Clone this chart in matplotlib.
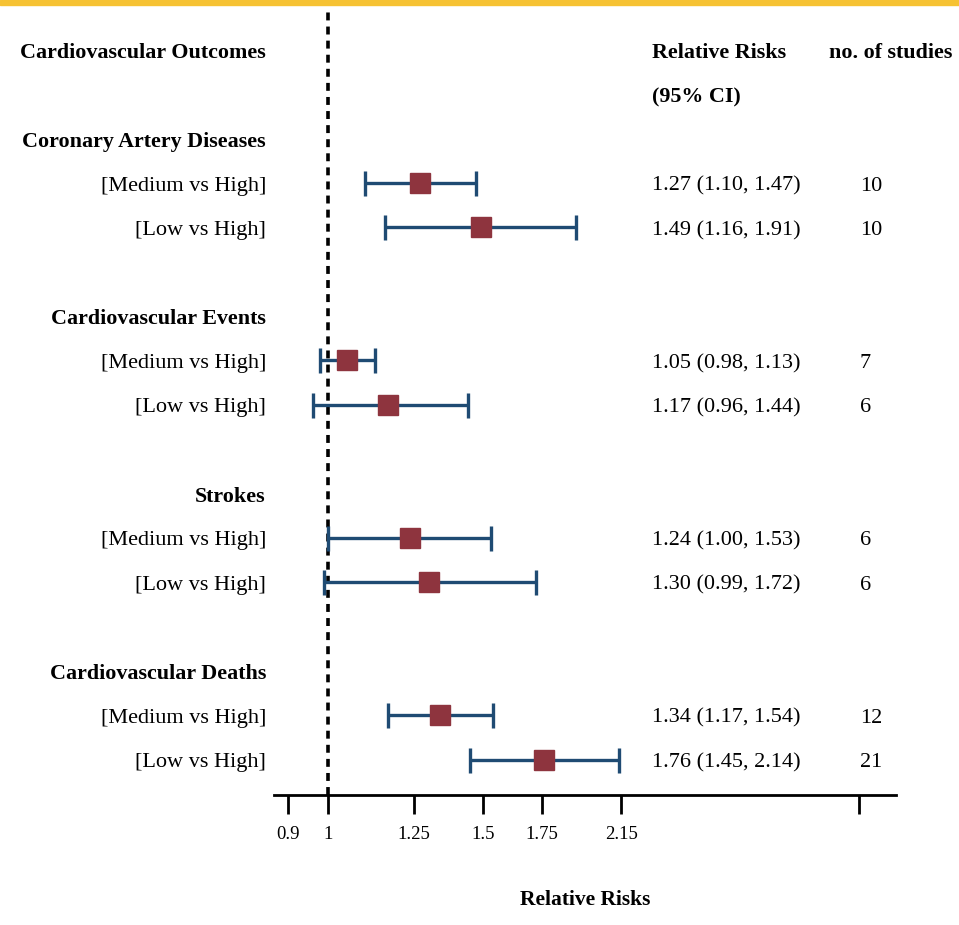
import numpy as np
import matplotlib.pyplot as plt
from matplotlib.patches import Rectangle

plt.rcParams['font.family'] = ['Liberation Serif', 'DejaVu Serif']

# data
groups = ['Coronary Artery Diseases', 'Cardiovascular Events', 'Strokes', 'Cardiovascular Deaths']
comparisons = ['[Medium vs High]', '[Low vs High]']
rr = [1.27, 1.49, 1.05, 1.17, 1.24, 1.30, 1.34, 1.76]
ci_low = [1.10, 1.16, 0.98, 0.96, 1.00, 0.99, 1.17, 1.45]
ci_high = [1.47, 1.91, 1.13, 1.44, 1.53, 1.72, 1.54, 2.14]
n_studies = [10, 10, 7, 6, 6, 6, 12, 21]
tick_vals = [0.9, 1, 1.25, 1.5, 1.75, 2.15, 4]
tick_labels = ['0.9', '1', '1.25', '1.5', '1.75', '2.15', '']

rr = np.array(rr)
ci_low = np.array(ci_low)
ci_high = np.array(ci_high)

# row positions: header rows 0,1 then 4 rows per group
group_rows = [2 + 4 * g for g in range(len(groups))]
item_rows = []
for g in group_rows:
    item_rows += [g + 1, g + 2]
item_rows = np.array(item_rows)

fig = plt.figure(figsize=(9.59, 9.25), dpi=100)
fig.patches.append(Rectangle((0, 0.9945), 1, 0.0055, transform=fig.transFigure,
                             color='#F6C233', zorder=0))

ax = fig.add_axes([274 / 959, 130 / 925, 622 / 959, 785 / 925])
ax.set_xscale('log')
ax.set_xlim(0.868, 4.41)
ax.set_ylim(16.8, -0.9)

ax.axvline(1, color='black', lw=2.6, linestyle=(0, (2.2, 1.7)), zorder=1)

ax.errorbar(rr, item_rows, xerr=[rr - ci_low, ci_high - rr], fmt='none',
            ecolor='#1F4B73', elinewidth=2.4, capsize=9, capthick=2.4, zorder=2)
ax.plot(rr, item_rows, 's', color='#8E343E', markersize=14, zorder=3)

for s in ['top', 'right', 'left']:
    ax.spines[s].set_visible(False)
ax.spines['bottom'].set_linewidth(2)
ax.set_yticks([])
ax.set_xticks(tick_vals)
ax.set_xticklabels(tick_labels)
ax.minorticks_off()
ax.tick_params(axis='x', length=14, width=2, pad=8, labelsize=13.5)

ax.set_xlabel('Relative Risks', fontsize=15.5, fontweight='bold')
ax.xaxis.set_label_coords(0.5, -0.121)

tr = ax.get_yaxis_transform()
fs = 16
fs_b = 15.8
xl = -0.013
x_rr = 0.608
x_n = 0.942
dy = 0.07  # small downward nudge so text sits level with the marks

ax.text(xl, dy, 'Cardiovascular Outcomes', transform=tr, ha='right', va='center',
        fontsize=fs_b, fontweight='bold')
ax.text(x_rr, dy, 'Relative Risks', transform=tr, ha='left', va='center',
        fontsize=fs_b, fontweight='bold')
ax.text(x_rr, 1 + dy, '(95% CI)', transform=tr, ha='left', va='center',
        fontsize=fs_b, fontweight='bold')
ax.text(0.892, dy, 'no. of studies', transform=tr, ha='left', va='center',
        fontsize=fs_b, fontweight='bold')

for g, row in zip(groups, group_rows):
    ax.text(xl, row + dy, g, transform=tr, ha='right', va='center',
            fontsize=fs_b, fontweight='bold')

for i, row in enumerate(item_rows):
    ax.text(xl, row + dy, comparisons[i % 2], transform=tr, ha='right', va='center', fontsize=fs)
    ax.text(x_rr, row + dy, '{:.2f} ({:.2f}, {:.2f})'.format(rr[i], ci_low[i], ci_high[i]),
            transform=tr, ha='left', va='center', fontsize=fs)
    ax.text(x_n, row + dy, str(n_studies[i]), transform=tr, ha='left', va='center', fontsize=fs)

fig.savefig('out.png', dpi=100)
